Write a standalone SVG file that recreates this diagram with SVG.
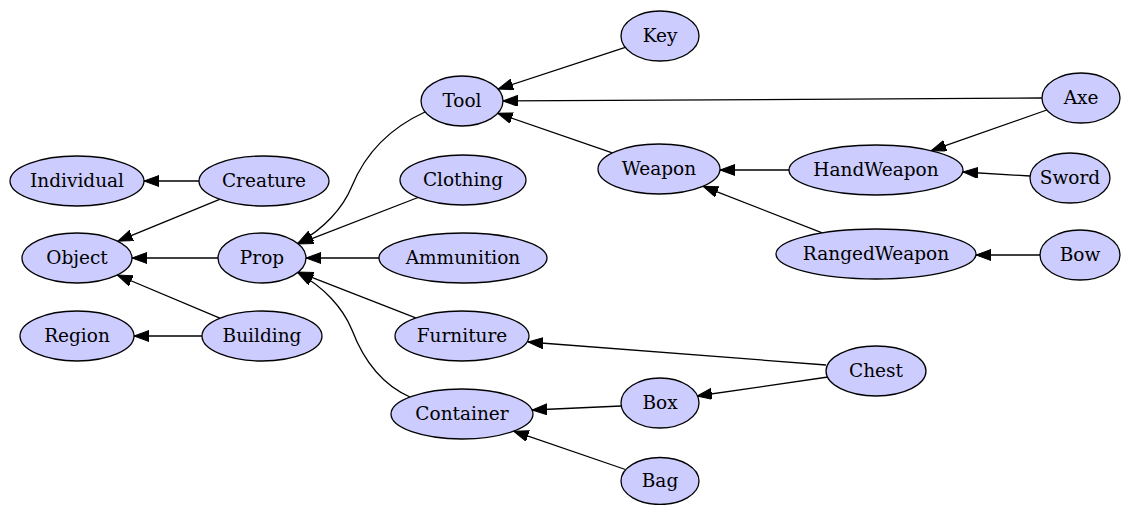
<svg xmlns="http://www.w3.org/2000/svg" width="1133" height="505" viewBox="0 0 1133 505">
<style>
.n ellipse{fill:#ccccff;stroke:#000;stroke-width:1.3}
.n text{font-family:"DejaVu Serif","Liberation Serif",serif;font-size:18.5px;text-anchor:middle;fill:#000}
.e path{fill:none;stroke:#000;stroke-width:1.3;marker-end:url(#arr)}
</style>
<defs>
<marker id="arr" markerUnits="userSpaceOnUse" markerWidth="16" markerHeight="12" refX="15" refY="5.5" orient="auto" viewBox="0 0 16 12">
<path d="M0,0 L15,5.5 L0,11 z" fill="#000" stroke="#000" stroke-width="1"/>
</marker>
</defs>
<rect width="1133" height="505" fill="#fff"/>
<g id="edges" class="e">
<path d="M199,181 L144,181"/>
<path d="M219.6,199.3 L117.8,241.2"/>
<path d="M218,258 L132,258"/>
<path d="M219.8,318.2 L117.3,275"/>
<path d="M202,336 L134,336"/>
<path d="M425,112 C390,128 366,152 352,186 C343,208 324,229 298,243"/>
<path d="M418,197.5 L298.3,243.9"/>
<path d="M379,258 L306,258"/>
<path d="M415.7,317.9 L298.3,272.1"/>
<path d="M410,397 C385,386 365,364 352,330 C343,308 324,287 298,273"/>
<path d="M625.3,47.4 L498.1,89.1"/>
<path d="M1042,98 L503,101"/>
<path d="M612.3,152.9 L497.7,113.3"/>
<path d="M789,170 L720,170"/>
<path d="M822.2,232.9 L703.1,186.3"/>
<path d="M1046.8,110 L931.1,150.7"/>
<path d="M1030,176 L963,172"/>
<path d="M1040,255 L976,255"/>
<path d="M826,365 L528,342"/>
<path d="M828,377 L697,396"/>
<path d="M621,406 L532,410"/>
<path d="M625.4,469.5 L513.6,431.2"/>
</g>
<g id="Individual" class="n"><ellipse cx="77" cy="181" rx="67" ry="25"/><text x="77" y="187">Individual</text></g>
<g id="Creature" class="n"><ellipse cx="264" cy="181" rx="65" ry="25"/><text x="264" y="187">Creature</text></g>
<g id="Object" class="n"><ellipse cx="77" cy="258" rx="55" ry="25"/><text x="77" y="264">Object</text></g>
<g id="Prop" class="n"><ellipse cx="262" cy="258" rx="44" ry="25"/><text x="262" y="264">Prop</text></g>
<g id="Region" class="n"><ellipse cx="77" cy="336" rx="57" ry="25"/><text x="77" y="342">Region</text></g>
<g id="Building" class="n"><ellipse cx="262" cy="336" rx="60" ry="25"/><text x="262" y="342">Building</text></g>
<g id="Tool" class="n"><ellipse cx="462" cy="101" rx="41" ry="25"/><text x="462" y="107">Tool</text></g>
<g id="Clothing" class="n"><ellipse cx="463" cy="180" rx="63" ry="25"/><text x="463" y="186">Clothing</text></g>
<g id="Ammunition" class="n"><ellipse cx="463" cy="258" rx="84" ry="25"/><text x="463" y="264">Ammunition</text></g>
<g id="Furniture" class="n"><ellipse cx="462" cy="336" rx="67" ry="25"/><text x="462" y="342">Furniture</text></g>
<g id="Container" class="n"><ellipse cx="462" cy="414" rx="71" ry="25"/><text x="462" y="420">Container</text></g>
<g id="Key" class="n"><ellipse cx="660" cy="36" rx="39" ry="25"/><text x="660" y="42">Key</text></g>
<g id="Weapon" class="n"><ellipse cx="659" cy="169" rx="61" ry="25"/><text x="659" y="175">Weapon</text></g>
<g id="Box" class="n"><ellipse cx="660" cy="403" rx="39" ry="25"/><text x="660" y="409">Box</text></g>
<g id="Bag" class="n"><ellipse cx="660" cy="481" rx="39" ry="23.5"/><text x="660" y="487">Bag</text></g>
<g id="HandWeapon" class="n"><ellipse cx="876" cy="170" rx="87" ry="25"/><text x="876" y="176">HandWeapon</text></g>
<g id="RangedWeapon" class="n"><ellipse cx="876" cy="254" rx="100" ry="25"/><text x="876" y="260">RangedWeapon</text></g>
<g id="Chest" class="n"><ellipse cx="876" cy="371" rx="50" ry="25"/><text x="876" y="377">Chest</text></g>
<g id="Axe" class="n"><ellipse cx="1081" cy="98" rx="39" ry="25"/><text x="1081" y="104">Axe</text></g>
<g id="Sword" class="n"><ellipse cx="1070" cy="178" rx="40" ry="25"/><text x="1070" y="184">Sword</text></g>
<g id="Bow" class="n"><ellipse cx="1080" cy="255" rx="40" ry="25"/><text x="1080" y="261">Bow</text></g>
</svg>
